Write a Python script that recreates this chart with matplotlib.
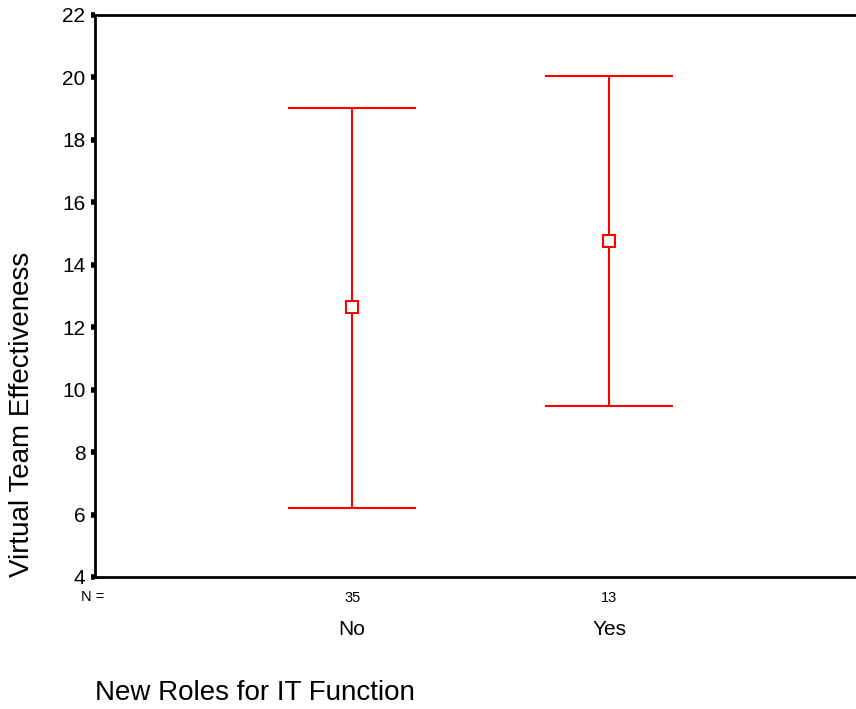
import numpy as np
import matplotlib.pyplot as plt

plt.rcParams['font.family'] = ['Liberation Sans', 'DejaVu Sans']

# Data
groups = ['No', 'Yes']
n_counts = [35, 13]
means = [12.65, 14.75]
upper = [19.03, 20.05]
lower = [6.2, 9.47]
yticks = [4, 6, 8, 10, 12, 14, 16, 18, 20, 22]

fig = plt.figure(figsize=(8.56, 7.09), dpi=100)
ax = fig.add_axes([95 / 856, 1 - 577 / 709, 761 / 856, 562 / 709])

x = np.arange(1, len(groups) + 1)
means = np.array(means)
yerr = [means - np.array(lower), np.array(upper) - means]
ax.errorbar(x, means, yerr=yerr, fmt='s', color='red', mfc='white', mec='red',
            ms=8.5, mew=1.5, elinewidth=1.5, capsize=46, capthick=1.5)

ax.set_xlim(0, 2.96)
ax.set_ylim(4, 22)
ax.set_yticks(yticks)
ax.set_yticklabels([str(t) for t in yticks], fontsize=15)
ax.set_xticks(x)
ax.set_xticklabels([str(n) for n in n_counts], fontsize=10.5)
ax.tick_params(axis='y', direction='out', length=3, width=4, pad=4)
ax.tick_params(axis='x', direction='out', length=0, pad=10)

for s in ['left', 'bottom', 'top']:
    ax.spines[s].set_linewidth(2)
ax.spines['right'].set_visible(False)

ax.text(-0.003, -0.036, 'N =', transform=ax.transAxes, fontsize=10.5, ha='center', va='center')
for xi, g in zip(x, groups):
    ax.annotate(g, xy=(xi, 4), xytext=(0, -38), textcoords='offset points',
                ha='center', va='center', fontsize=15)

fig.text(95 / 856, 1 - 693 / 709, 'New Roles for IT Function', fontsize=20, ha='left', va='center')
fig.text(22 / 856, 1 - 414 / 709, 'Virtual Team Effectiveness', fontsize=20,
         rotation=90, ha='center', va='center')

fig.savefig('out.png', dpi=100)
